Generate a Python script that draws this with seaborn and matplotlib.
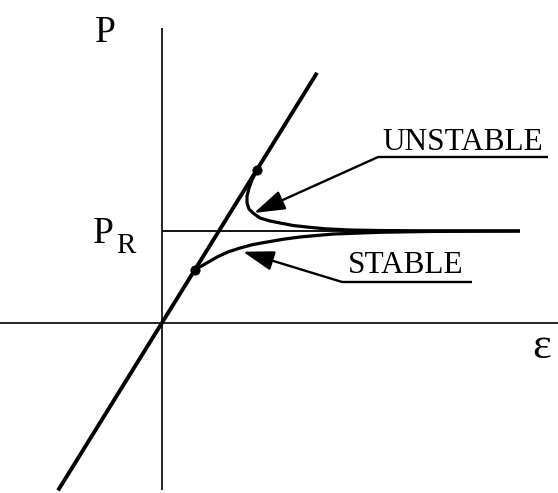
import matplotlib
matplotlib.use("Agg")
import matplotlib.pyplot as plt
import seaborn as sns
import pandas as pd

sns.set_theme(style="white")
plt.rcParams["font.family"] = ["Liberation Serif", "DejaVu Serif"]
plt.rcParams["text.color"] = "black"

# Load-strain schematic, units chosen so that the reduced-modulus load P_R = 1
P_R = 1.0

# elastic loading line through the origin
elastic_eps = [-1.13, 1.685]
elastic_P = [-1.82, 2.72]

# post-bifurcation paths
unstable_eps = [1.03, 0.978, 0.946, 0.924, 0.924, 0.946, 0.989, 1.065, 1.174, 1.283,
                1.424, 1.576, 1.772, 2.043, 2.370, 2.913, 3.891]
unstable_P = [1.66, 1.554, 1.467, 1.380, 1.304, 1.239, 1.196, 1.141, 1.109, 1.087,
              1.060, 1.043, 1.024, 1.011, 1.005, 1.002, 1.0]

stable_eps = [0.36, 0.467, 0.598, 0.717, 0.848, 0.989, 1.141, 1.315, 1.5, 1.859,
              2.370, 2.913, 3.891]
stable_P = [0.58, 0.641, 0.717, 0.772, 0.815, 0.853, 0.880, 0.910, 0.935, 0.967,
            0.986, 0.995, 1.0]

# bifurcation points on the elastic line
branch_eps = [1.03, 0.36]
branch_P = [1.66, 0.58]

# callout leaders: (underline end, elbow, arrow tip)
unstable_leader_eps = [4.196, 2.348, 1.000]
unstable_leader_P = [1.804, 1.804, 1.196]
stable_leader_eps = [3.370, 1.957, 0.880]
stable_leader_P = [0.446, 0.446, 0.775]

labels = {"unstable": "UNSTABLE", "stable": "STABLE"}

fig = plt.figure(figsize=(5.58, 4.93), dpi=100)
ax = fig.add_axes([0, 0, 1, 1])
ax.set_xlim(-162 / 92, (558 - 162) / 92)
ax.set_ylim((323 - 493) / 92, 323 / 92)
ax.axis("off")

def line(x, y, lw, **kw):
    df = pd.DataFrame({"x": x, "y": y})
    sns.lineplot(data=df, x="x", y="y", sort=False, estimator=None,
                 color="black", lw=lw, ax=ax, solid_capstyle="butt", **kw)

# coordinate axes
line([-1.761, 4.304], [0, 0], 1.2)
line([0, 0], [-1.815, 3.207], 1.2)
# reduced-modulus load level
line([0, 3.891], [P_R, P_R], 1.3)

# elastic line and branches
line(elastic_eps, elastic_P, 2.8)
line(unstable_eps, unstable_P, 2.3)
line(stable_eps, stable_P, 2.3)
sns.scatterplot(x=branch_eps, y=branch_P, color="black", s=45, ax=ax, zorder=5,
                edgecolor="black")

# callouts
for ex, ey in [(unstable_leader_eps, unstable_leader_P), (stable_leader_eps, stable_leader_P)]:
    line(ex[:2], ey[:2], 1.7)
    ax.annotate("", xy=(ex[2], ey[2]), xytext=(ex[1], ey[1]),
                arrowprops=dict(arrowstyle="-|>,head_length=1.0,head_width=0.32",
                                mutation_scale=19, color="black", lw=1.7,
                                shrinkA=0, shrinkB=0))

ax.text(2.391, 1.880, labels["unstable"], fontsize=22.5, ha="left", va="baseline")
ax.text(2.022, 0.543, labels["stable"], fontsize=22.5, ha="left", va="baseline")

# axis labels
ax.text(-0.735, 3.054, "P", fontsize=27, ha="left", va="baseline")
ax.text(-0.755, 0.870, "P", fontsize=27, ha="left", va="baseline")
ax.text(-0.50, 0.761, "R", fontsize=21, ha="left", va="baseline")
ax.text(4.02, -0.380, "ε", fontsize=32, ha="left", va="baseline")

fig.savefig("out.png", dpi=100)
